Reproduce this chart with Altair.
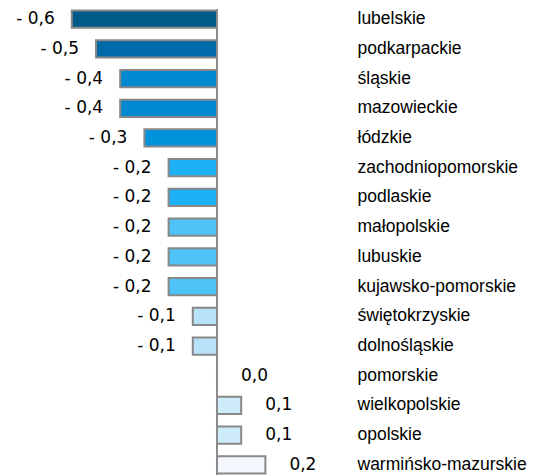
import altair as alt
import pandas as pd

regions = ["lubelskie", "podkarpackie", "śląskie", "mazowieckie", "łódzkie",
           "zachodniopomorskie", "podlaskie", "małopolskie", "lubuskie",
           "kujawsko-pomorskie", "świętokrzyskie", "dolnośląskie", "pomorskie",
           "wielkopolskie", "opolskie", "warmińsko-mazurskie"]
values = [-0.6, -0.5, -0.4, -0.4, -0.3, -0.2, -0.2, -0.2, -0.2, -0.2,
          -0.1, -0.1, 0.0, 0.1, 0.1, 0.2]
colors = ["#005A87", "#006BA8", "#0089D0", "#0089D0", "#0093DB",
          "#1EB0F5", "#1EB0F5", "#4DC3F8", "#4DC3F8", "#4DC3F8",
          "#B8E2F8", "#B8E2F8", "#FFFFFF", "#CDEBF9", "#CDEBF9", "#F4F7FD"]

df = pd.DataFrame({"region": regions, "value": values})

LABEL_FONT = "Liberation Sans"
VALUE_FONT = "DejaVu Sans"
W, H = 342, 466
XDOM = [-0.8636, 0.5496]

x = alt.X("value:Q", scale=alt.Scale(domain=XDOM, nice=False, zero=False), axis=None)
y = alt.Y("region:N", sort=regions,
          scale=alt.Scale(paddingInner=0.42, paddingOuter=0.05),
          axis=alt.Axis(orient="right", title=None, domain=False, ticks=False, grid=False,
                        labelPadding=7, labelAlign="left", labelFont=LABEL_FONT,
                        labelFontSize=17.5, labelColor="#000000"))

base = alt.Chart(df).transform_calculate(
    label="(datum.value < 0 ? '- ' : '') + replace(format(abs(datum.value), '.1f'), '.', ',')"
)

bars = base.mark_bar(stroke="#888888", strokeWidth=2).encode(
    x=x, x2=alt.datum(0), y=y,
    color=alt.Color("region:N", scale=alt.Scale(domain=regions, range=colors), legend=None),
)

neg = base.transform_filter("datum.value < 0").mark_text(
    align="right", baseline="middle", dx=-17, font=VALUE_FONT, fontSize=17, color="#000000"
).encode(x=x, y=y, text="label:N")

pos = base.transform_filter("datum.value >= 0").mark_text(
    align="left", baseline="middle", dx=24, font=VALUE_FONT, fontSize=17, color="#000000"
).encode(x=x, y=y, text="label:N")

rule = alt.Chart(pd.DataFrame({"z": [0]})).mark_rule(color="#8C8C8C", strokeWidth=2).encode(
    x=alt.X("z:Q", scale=alt.Scale(domain=XDOM, nice=False, zero=False), axis=None)
)

chart = alt.layer(bars, rule, neg, pos).properties(
    width=W, height=H, padding=0
).configure_view(stroke=None)

chart.save("out.html", embed_options={"renderer": "svg", "actions": False})
